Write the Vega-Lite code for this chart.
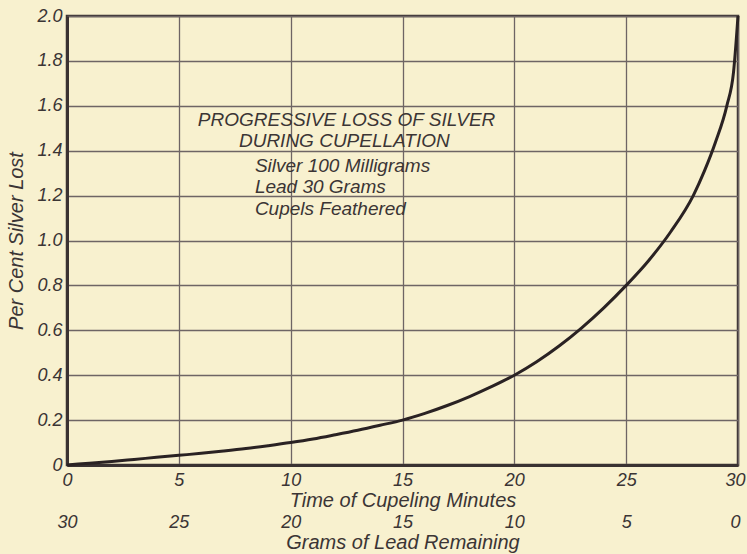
{
  "$schema": "https://vega.github.io/schema/vega-lite/v6.json",
  "width": 671,
  "height": 449,
  "autosize": {"type": "none"},
  "padding": {"left": 67, "top": 16, "right": 9, "bottom": 89},
  "background": "#f8f1cf",
  "view": {"stroke": "#3a3232", "strokeWidth": 2.5},
  "config": {
    "font": "Liberation Sans",
    "axis": {
      "labelFont": "Liberation Sans",
      "labelFontStyle": "italic",
      "labelFontSize": 18,
      "labelColor": "#3b3535",
      "titleFont": "Liberation Sans",
      "titleFontStyle": "italic",
      "titleFontWeight": "normal",
      "titleFontSize": 20,
      "titleColor": "#3b3535",
      "ticks": false,
      "gridColor": "#6e6565",
      "gridWidth": 1.3,
      "gridOpacity": 1,
      "domainColor": "#3a3232",
      "domainWidth": 3
    }
  },
  "datasets": {
    "curve": [
      {"minutes": 0, "loss": 0},
      {"minutes": 1, "loss": 0.008},
      {"minutes": 2, "loss": 0.016},
      {"minutes": 3, "loss": 0.025},
      {"minutes": 4, "loss": 0.034},
      {"minutes": 5, "loss": 0.043},
      {"minutes": 6, "loss": 0.052},
      {"minutes": 7, "loss": 0.062},
      {"minutes": 8, "loss": 0.073},
      {"minutes": 9, "loss": 0.086},
      {"minutes": 10, "loss": 0.1},
      {"minutes": 11, "loss": 0.116},
      {"minutes": 12, "loss": 0.135},
      {"minutes": 13, "loss": 0.155},
      {"minutes": 14, "loss": 0.177},
      {"minutes": 15, "loss": 0.2},
      {"minutes": 16, "loss": 0.23},
      {"minutes": 17, "loss": 0.265},
      {"minutes": 18, "loss": 0.305},
      {"minutes": 19, "loss": 0.35},
      {"minutes": 20, "loss": 0.4},
      {"minutes": 21, "loss": 0.46},
      {"minutes": 22, "loss": 0.53},
      {"minutes": 23, "loss": 0.61},
      {"minutes": 24, "loss": 0.7},
      {"minutes": 25, "loss": 0.8},
      {"minutes": 26, "loss": 0.91},
      {"minutes": 27, "loss": 1.04},
      {"minutes": 28, "loss": 1.2},
      {"minutes": 28.5, "loss": 1.31},
      {"minutes": 29, "loss": 1.44},
      {"minutes": 29.5, "loss": 1.6},
      {"minutes": 29.8, "loss": 1.75},
      {"minutes": 30, "loss": 2.0}
    ],
    "heading": [
      {"x": 12.5, "y": 1.535, "text": "PROGRESSIVE LOSS OF SILVER"},
      {"x": 12.4, "y": 1.445, "text": "DURING CUPELLATION"}
    ],
    "notes": [
      {"x": 8.4, "y": 1.33, "text": "Silver 100 Milligrams"},
      {"x": 8.4, "y": 1.24, "text": "Lead 30 Grams"},
      {"x": 8.4, "y": 1.14, "text": "Cupels Feathered"}
    ],
    "lead": [
      {"lead": 0},
      {"lead": 30}
    ]
  },
  "layer": [
    {
      "layer": [
        {
          "data": {"name": "curve"},
          "mark": {"type": "line", "interpolate": "monotone", "color": "#2a2223", "strokeWidth": 3},
          "encoding": {
            "x": {
              "field": "minutes", "type": "quantitative",
              "scale": {"domain": [0, 30], "nice": false},
              "axis": {
                "values": [0, 5, 10, 15, 20, 25, 30],
                "title": "Time of Cupeling Minutes",
                "labelPadding": 6,
                "titlePadding": 1,
                "labelFlush": false,
                "labelOffset": {"condition": {"test": "datum.value == 30", "value": -3}, "value": 0}
              }
            },
            "y": {
              "field": "loss", "type": "quantitative",
              "scale": {"domain": [0, 2], "nice": false},
              "axis": {
                "values": [0, 0.2, 0.4, 0.6, 0.8, 1.0, 1.2, 1.4, 1.6, 1.8, 2.0],
                "labelExpr": "datum.value == 0 ? '0' : format(datum.value, '.1f')",
                "title": "Per Cent Silver Lost",
                "labelPadding": 5,
                "titlePadding": 10,
                "labelFlush": false
              }
            }
          }
        },
        {
          "data": {"name": "heading"},
          "mark": {"type": "text", "align": "center", "baseline": "middle", "font": "Liberation Sans", "fontStyle": "italic", "fontSize": 19, "color": "#3b3535"},
          "encoding": {
            "x": {"field": "x", "type": "quantitative"},
            "y": {"field": "y", "type": "quantitative"},
            "text": {"field": "text"}
          }
        },
        {
          "data": {"name": "notes"},
          "mark": {"type": "text", "align": "left", "baseline": "middle", "font": "Liberation Sans", "fontStyle": "italic", "fontSize": 19, "color": "#3b3535"},
          "encoding": {
            "x": {"field": "x", "type": "quantitative"},
            "y": {"field": "y", "type": "quantitative"},
            "text": {"field": "text"}
          }
        }
      ]
    },
    {
      "data": {"name": "lead"},
      "mark": {"type": "point", "opacity": 0},
      "encoding": {
        "x": {
          "field": "lead", "type": "quantitative",
          "scale": {"domain": [0, 30], "nice": false, "reverse": true},
          "axis": {
            "orient": "bottom",
            "offset": 48,
            "domain": false,
            "grid": false,
            "values": [0, 5, 10, 15, 20, 25, 30],
            "title": "Grams of Lead Remaining",
            "labelPadding": 0,
            "titlePadding": 1,
            "labelFlush": false,
            "labelOffset": {"condition": {"test": "datum.value == 0", "value": -3}, "value": 0}
          }
        }
      }
    }
  ],
  "resolve": {"scale": {"x": "independent"}, "axis": {"x": "independent"}}
}
